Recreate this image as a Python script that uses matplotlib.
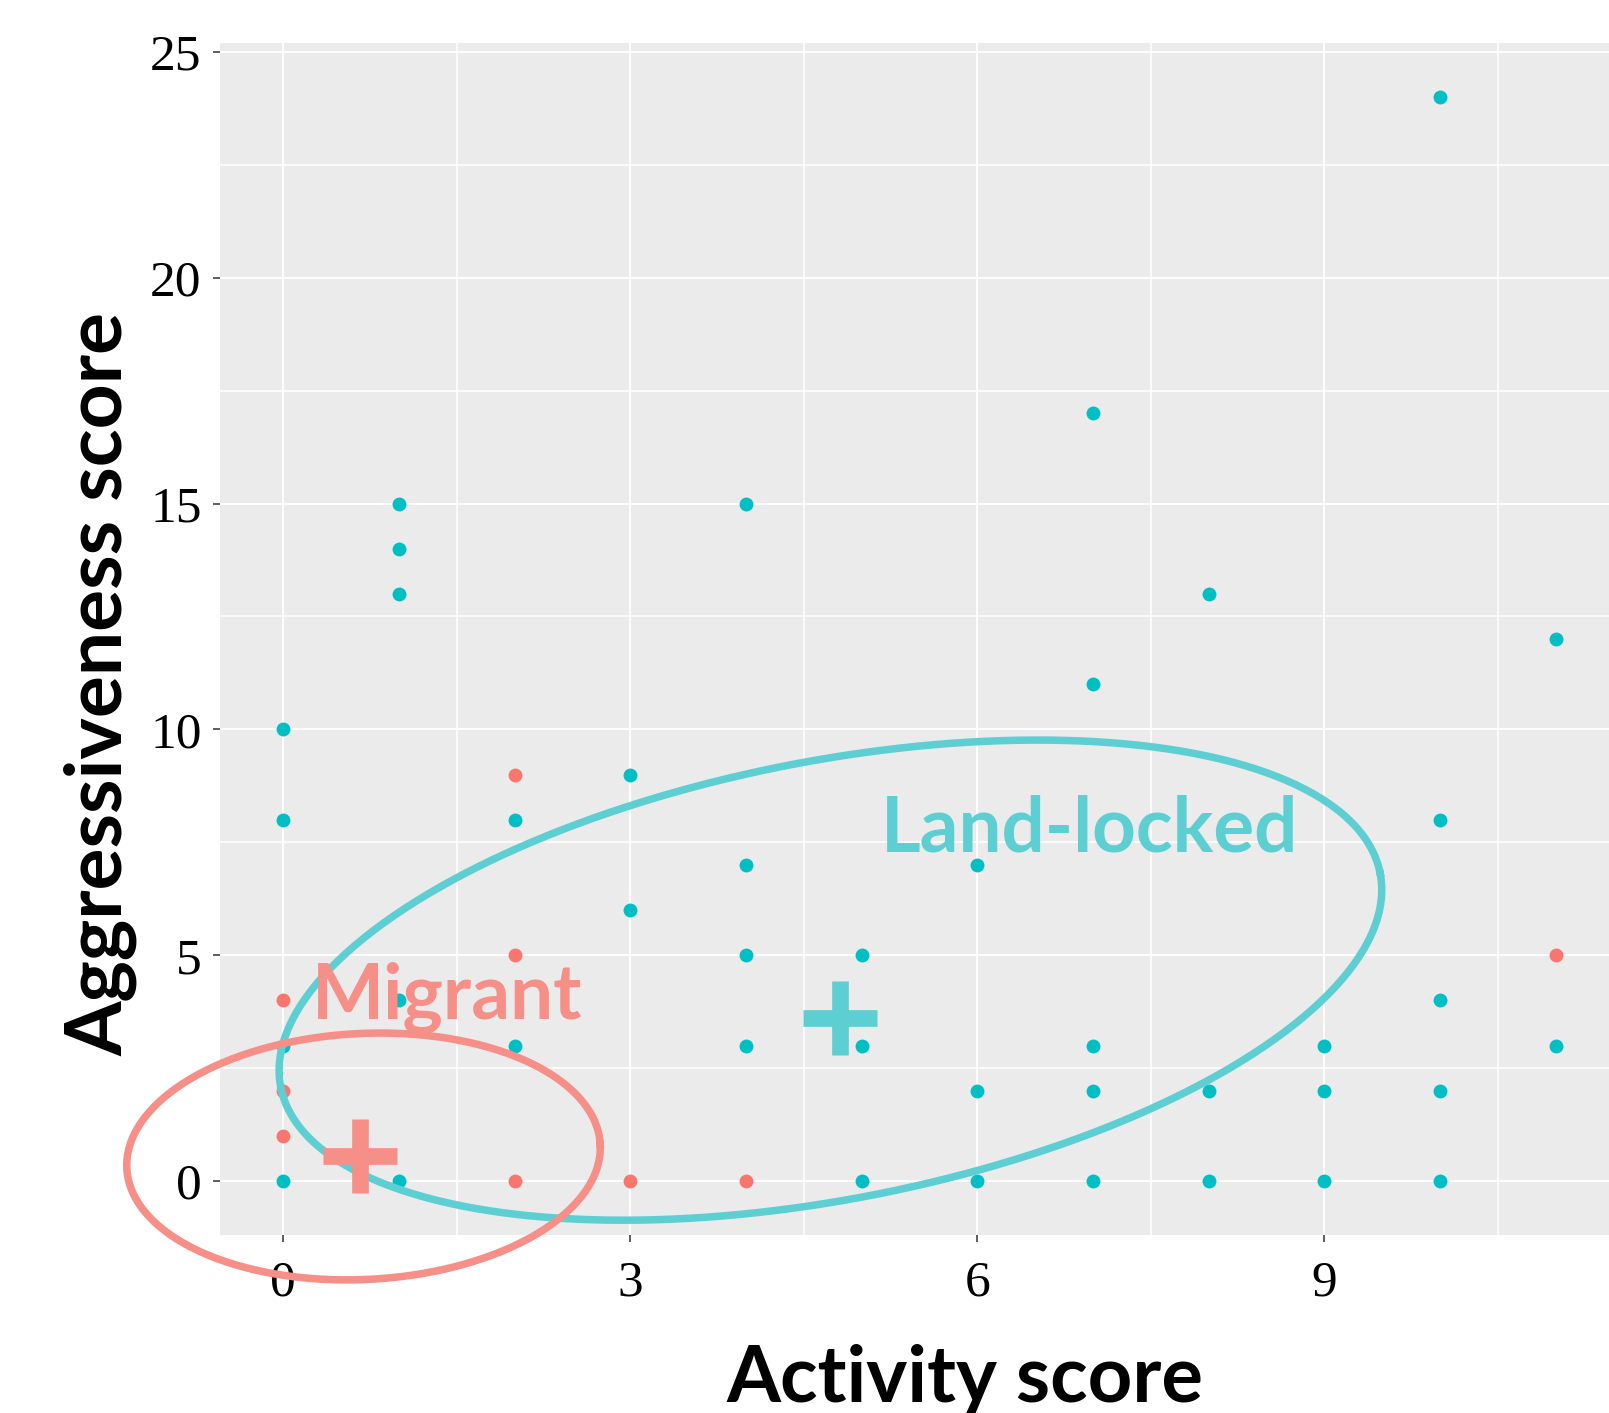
import numpy as np
import matplotlib
matplotlib.use("Agg")
import matplotlib.pyplot as plt

# data
land_x = [0, 0, 0, 0, 1, 1, 1, 1, 1, 2, 2, 3, 3, 4, 4, 4, 4, 5, 5, 5, 6, 6, 6,
          7, 7, 7, 7, 7, 8, 8, 8, 9, 9, 9, 10, 10, 10, 10, 10, 11, 11]
land_y = [10, 8, 3, 0, 15, 14, 13, 4, 0, 8, 3, 9, 6, 15, 7, 5, 3, 5, 3, 0, 7, 2, 0,
          17, 11, 3, 2, 0, 13, 2, 0, 3, 2, 0, 24, 8, 4, 2, 0, 12, 3]
mig_x = [0, 0, 0, 2, 2, 2, 3, 4, 11]
mig_y = [4, 2, 1, 9, 5, 0, 0, 0, 5]

# group centres (the big plus signs)
land_centre = (4.81, 3.61)
mig_centre = (0.66, 0.55)

xticks = [0, 3, 6, 9]
yticks = [0, 5, 10, 15, 20, 25]

RED = "#F8766D"
CYAN = "#00BFC4"
RED_L = "#F58F87"
CYAN_L = "#5DCFD3"

W, H, DPI = 1609, 1413, 100
fig = plt.figure(figsize=(W / DPI, H / DPI), dpi=DPI)
ax_l, ax_r, ax_b, ax_t = 219.6, 1609, 1235.4, 42.7
ax = fig.add_axes([ax_l / W, 1 - ax_b / H, (ax_r - ax_l) / W, (ax_b - ax_t) / H])
ax.set_facecolor("#EBEBEB")
xlim = (-0.55, 11.46)
ylim = (-1.2, 25.2)
ax.set_xlim(*xlim)
ax.set_ylim(*ylim)
px_x = (ax_r - ax_l) / (xlim[1] - xlim[0])
px_y = (ax_b - ax_t) / (ylim[1] - ylim[0])

ax.set_xticks(xticks)
ax.set_yticks(yticks)
ax.set_xticks([1.5, 4.5, 7.5, 10.5], minor=True)
ax.set_yticks([2.5, 7.5, 12.5, 17.5, 22.5], minor=True)
ax.grid(which="major", color="white", lw=1.3)
ax.grid(which="minor", color="white", lw=1.1)
ax.set_axisbelow(True)
for s in ax.spines.values():
    s.set_visible(False)
ax.tick_params(which="minor", length=0)
ax.tick_params(which="major", length=5, width=1.1, color="#333333",
               labelsize=37, labelcolor="black")
ax.tick_params(axis="x", pad=13)
ax.tick_params(axis="y", pad=8)
for lab in ax.get_xticklabels() + ax.get_yticklabels():
    lab.set_fontfamily("Liberation Serif")

ax.scatter(mig_x, mig_y, s=100, color=RED, lw=0, zorder=3)
ax.scatter(land_x, land_y, s=100, color=CYAN, lw=0, zorder=3)


def ellipse(cx, cy, a, b, ang):
    # a, b in pixels, angle in degrees, drawn on screen then mapped to data
    t = np.linspace(0, 2 * np.pi, 400)
    th = np.radians(ang)
    ex = a * np.cos(t) * np.cos(th) - b * np.sin(t) * np.sin(th)
    ey = a * np.cos(t) * np.sin(th) + b * np.sin(t) * np.cos(th)
    return cx + ex / px_x, cy + ey / px_y


ex, ey = ellipse(4.73, 4.45, 560, 219, 11.0)
ax.plot(ex, ey, color=CYAN_L, lw=5.4, clip_on=False, zorder=4)
ex, ey = ellipse(0.694, 0.547, 237, 123, 2.9)
ax.plot(ex, ey, color=RED_L, lw=5.4, clip_on=False, zorder=5)

ax.plot(*land_centre, marker="+", ms=53, mew=12, color=CYAN_L, zorder=6)
ax.plot(*mig_centre, marker="+", ms=53, mew=12, color=RED_L, zorder=6)

ax.text(0.25, 3.59, "Migrant", color=RED_L, fontsize=55, fontweight="bold",
        family="Lato", va="baseline", ha="left", zorder=7)
ax.text(5.17, 7.29, "Land-locked", color=CYAN_L, fontsize=55, fontweight="bold",
        family="Lato", va="baseline", ha="left", zorder=7)

fig.text(965 / W, 1 - 1401.7 / H, "Activity score", fontsize=56, fontweight="bold",
         family="Lato", ha="center", va="baseline")
fig.text(121.7 / W, 1 - 684 / H, "Aggressiveness score", fontsize=56.5,
         fontweight="bold", family="Lato", ha="center", va="baseline",
         rotation=90, rotation_mode="anchor")

fig.savefig("out.png", dpi=DPI)
